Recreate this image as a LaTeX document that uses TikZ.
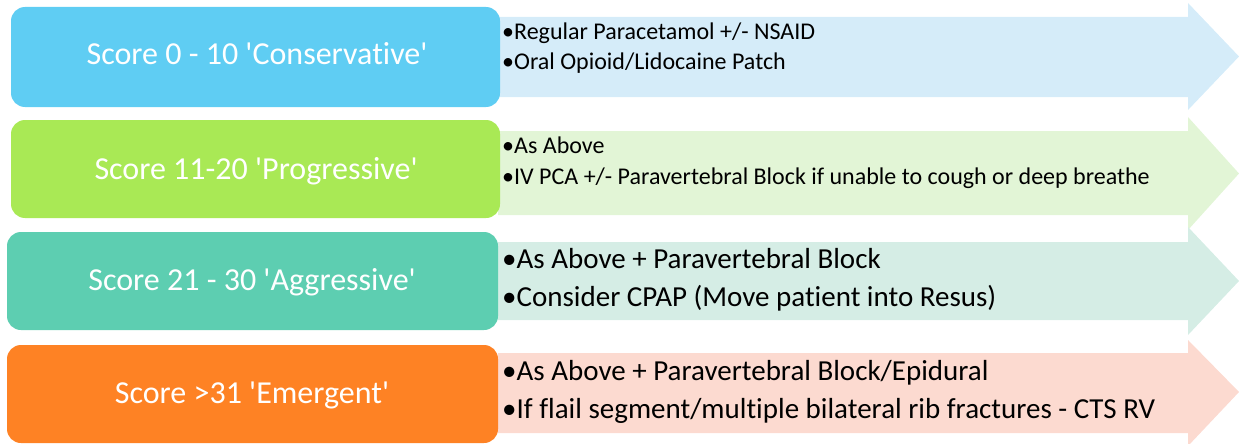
\documentclass[tikz,border=0pt]{standalone}
\usepackage{fontspec}
\setmainfont{Carlito}[Ligatures={NoCommon}]
\definecolor{boxA}{HTML}{5FCDF3}
\definecolor{arrA}{HTML}{D5ECF9}
\definecolor{boxB}{HTML}{A9E955}
\definecolor{arrB}{HTML}{E2F5D6}
\definecolor{boxC}{HTML}{5DCEB1}
\definecolor{arrC}{HTML}{D5EDE5}
\definecolor{boxD}{HTML}{FE8224}
\definecolor{arrD}{HTML}{FCDAD0}
\newcommand{\sq}{\textquotesingle}
\tikzset{
  scorebox/.style={inner sep=0pt, text=white,
    font=\fontsize{32}{38}\selectfont},
  small/.style={anchor=base west, inner sep=0pt, text=black,
    font=\fontsize{24}{28}\selectfont},
  big/.style={anchor=base west, inner sep=0pt, text=black,
    font=\fontsize{29}{34}\selectfont},
}
\newcommand{\arrowshape}[6]{% color, headtop, bodytop, tipy, bodybottom, headbottom
  \fill[#1] (498,-#3) -- (1188,-#3) -- (1188,-#2) -- (1239,-#4)
    -- (1188,-#6) -- (1188,-#5) -- (498,-#5) -- cycle;}
\begin{document}
\begin{tikzpicture}[x=1pt,y=1pt]
\useasboundingbox (0,0) rectangle (1239,-444);
% arrows
\arrowshape{arrA}{3}{17}{56.5}{97}{110}
\arrowshape{arrB}{117}{131}{173.5}{215}{230}
\arrowshape{arrC}{227}{242}{281}{320}{335}
\arrowshape{arrD}{340}{353}{392}{433}{446}
% score boxes
\fill[boxA, rounded corners=14pt] (11,-7) rectangle (500,-107);
\fill[boxB, rounded corners=14pt] (11,-120) rectangle (500,-218);
\fill[boxC, rounded corners=14pt] (7,-232) rectangle (498,-330);
\fill[boxD, rounded corners=14pt] (7,-345) rectangle (498,-443);
\node[scorebox, anchor=base] (sA) at (257,-65) {Score 0 - 10 \sq Conservative\sq};
\node[scorebox, anchor=base] (sB) at (256,-179) {Score 11-20 \sq Progressive\sq};
\node[scorebox, anchor=base] (sC) at (252,-290) {Score 21 - 30 \sq Aggressive\sq};
\node[scorebox, anchor=base] (sD) at (252,-403) {Score >31 \sq Emergent\sq};
% action texts
\node[small] (a1) at (502,-40) {•Regular Paracetamol +/- NSAID};
\node[small] (a2) at (502,-70) {•Oral Opioid/Lidocaine Patch};
\node[small] (b1) at (502,-153) {•As Above};
\node[small] (b2) at (502,-184) {•IV PCA +/- Paravertebral Block if unable to cough or deep breathe};
\node[big] (c1) at (502,-268) {•As Above + Paravertebral Block};
\node[big] (c2) at (502,-306) {•Consider CPAP (Move patient into Resus)};
\node[big] (d1) at (502,-380) {•As Above + Paravertebral Block/Epidural};
\node[big] (d2) at (502,-418) {•If flail segment/multiple bilateral rib fractures - CTS RV};
\end{tikzpicture}
\end{document}
